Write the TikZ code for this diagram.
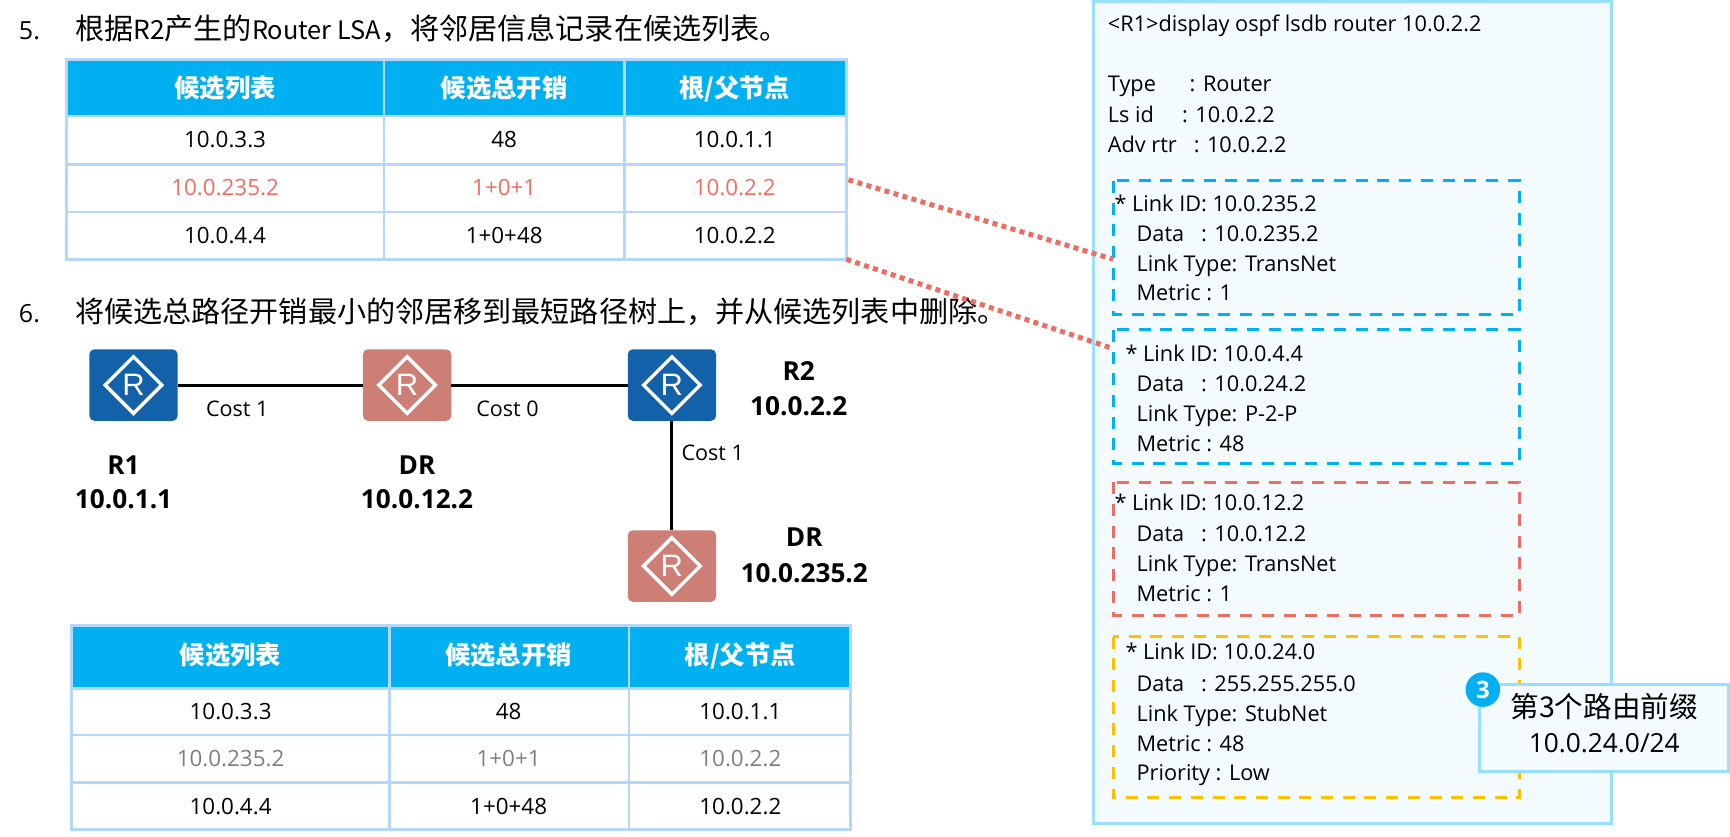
\documentclass[tikz,border=0pt]{standalone}
\usepackage{fontspec}
\setmainfont{Open Sans}
\newfontfamily\cjk{Noto Sans CJK SC}
\newfontfamily\rfont{Liberation Sans}
\usetikzlibrary{shapes.geometric}
\definecolor{hdr}{HTML}{00B0F0}
\definecolor{tline}{HTML}{B5D8FA}
\definecolor{panelfill}{HTML}{F3FBFF}
\definecolor{panelline}{HTML}{99DFFA}
\definecolor{redc}{HTML}{EC6E62}
\definecolor{yelc}{HTML}{FFC000}
\definecolor{rblue}{HTML}{1261A9}
\definecolor{rpink}{HTML}{CD7E75}
\definecolor{greyc}{HTML}{7F7F7F}
\newcommand{\fs}[1]{\fontsize{#1}{#1}\selectfont}
\tikzset{
  x=1.1033pt,y=-1.1033pt,
  title/.style={anchor=west,inner sep=0,text height=26pt,text depth=7pt,font=\fs{29.1}},
  numlab/.style={anchor=west,inner sep=0,text height=26pt,text depth=7pt,font=\fs{25}},
  cell/.style={inner sep=0,text height=18pt,text depth=3pt,font=\fs{22.4}},
  head/.style={inner sep=0,text height=20pt,text depth=4pt,text=white,font=\fs{25.3}\cjk\bfseries},
  tline/.style={draw=tline,line width=2.6pt},
  routerbox/.style={rectangle,rounded corners=5pt,minimum width=88.3pt,minimum height=71.5pt,inner sep=0},
  rmark/.style={diamond,draw=white,line width=3.4pt,inner sep=0,minimum size=58pt,text=white,font=\rfont\fs{31}},
  wire/.style={draw=black,line width=3pt},
  cost/.style={inner sep=0,text height=18pt,text depth=3pt,font=\fs{21.5}},
  rname/.style={inner sep=0,text height=20pt,text depth=3pt,font=\fs{26.2}\bfseries},
  code/.style={anchor=west,inner sep=0,text height=18pt,text depth=3pt,font=\fs{21.7}},
  dbox/.style={line width=3pt,dash pattern=on 12pt off 9.7pt},
  panel/.style={draw=panelline,fill=panelfill,line width=3pt},
  link/.style={draw=redc,line width=5pt,dash pattern=on 5pt off 4.4pt},
}
\begin{document}
\begin{tikzpicture}
\useasboundingbox (0,0) rectangle (1568,758.6);
% ---- titles
\node[numlab] (n5) at (17,27) {5.};
\node[title] (t5) at (68,27) {\cjk 根据{\fs{26.3}R2}产生的{\fs{25.4}Router LSA}，将邻居信息记录在候选列表。};
\node[numlab] (n6) at (17,284) {6.};
\node[title] (t6) at (68,284) {\cjk 将候选总路径开销最小的邻居移到最短路径树上，并从候选列表中删除。};
% ---- table 1
\fill[hdr] (60,54) rectangle (767,105);
\draw[tline] (60,54) rectangle (767,235);
\draw[tline] (60,105) -- (767,105) (60,149) -- (767,149) (60,192) -- (767,192);
\draw[tline] (348,54) -- (348,235) (566,54) -- (566,235);
\node[head] (a11) at (204,81) {候选列表};
\node[head] (a12) at (457,81) {候选总开销};
\node[head] (a13) at (666,81) {根/父节点};
\node[cell] (a21) at (204,127) {10.0.3.3};
\node[cell] (a22) at (457,127) {48};
\node[cell] (a23) at (666,127) {10.0.1.1};
\node[cell,text=redc] (a31) at (204,170.5) {10.0.235.2};
\node[cell,text=redc] (a32) at (457,170.5) {1+0+1};
\node[cell,text=redc] (a33) at (666,170.5) {10.0.2.2};
\node[cell] (a41) at (204,214) {10.0.4.4};
\node[cell] (a42) at (457,214) {1+0+48};
\node[cell] (a43) at (666,214) {10.0.2.2};
% ---- table 2
\fill[hdr] (65,567) rectangle (771,624);
\draw[tline] (65,567) rectangle (771,752);
\draw[tline] (65,624) -- (771,624) (65,666) -- (771,666) (65,709) -- (771,709);
\draw[tline] (353,567) -- (353,752) (570,567) -- (570,752);
\node[head] (b11) at (209,595) {候选列表};
\node[head] (b12) at (461,595) {候选总开销};
\node[head] (b13) at (671,595) {根/父节点};
\node[cell] (b21) at (209,645) {10.0.3.3};
\node[cell] (b22) at (461,645) {48};
\node[cell] (b23) at (671,645) {10.0.1.1};
\node[cell,text=greyc] (b31) at (209,688) {10.0.235.2};
\node[cell,text=greyc] (b32) at (461,688) {1+0+1};
\node[cell,text=greyc] (b33) at (671,688) {10.0.2.2};
\node[cell] (b41) at (209,731) {10.0.4.4};
\node[cell] (b42) at (461,731) {1+0+48};
\node[cell] (b43) at (671,731) {10.0.2.2};
% ---- routers
\node[routerbox,fill=rblue] (r1) at (121,349) {};
\node[rmark] (r1m) at (r1) {R};
\node[routerbox,fill=rpink] (dr1) at (369,349) {};
\node[rmark] (dr1m) at (dr1) {R};
\node[routerbox,fill=rblue] (r2) at (609,349) {};
\node[rmark] (r2m) at (r2) {R};
\node[routerbox,fill=rpink] (dr2) at (609,513) {};
\node[rmark] (dr2m) at (dr2) {R};
\draw[wire] (r1) -- (dr1);
\draw[wire] (dr1) -- (r2);
\draw[wire] (r2) -- (dr2);
\node[cost] (c1) at (215,371) {Cost 1};
\node[cost] (c2) at (460,371) {Cost 0};
\node[cost] (c3) at (646,411) {Cost 1};
\node[rname] (l1) at (112,422) {R1};
\node[rname] (l2) at (112,453) {10.0.1.1};
\node[rname] (l3) at (378,422) {DR};
\node[rname] (l4) at (378,453) {10.0.12.2};
\node[rname] (l5) at (724,337) {R2};
\node[rname] (l6) at (724,369) {10.0.2.2};
\node[rname] (l7) at (729,488) {DR};
\node[rname] (l8) at (729,520) {10.0.235.2};
% ---- panel
\draw[panel] (991,1) rectangle (1461,746);
\node[code] (p0) at (1004,22) {<R1>display ospf lsdb router 10.0.2.2};
\node[code] (p1) at (1004,76) {Type~~~~~~: Router};
\node[code] (p2) at (1004,104) {Ls id~~~~~: 10.0.2.2};
\node[code] (p3) at (1004,131) {Adv rtr~~~: 10.0.2.2};
\draw[dbox,draw=hdr] (1009,164) rectangle (1377,285);
\draw[dbox,draw=hdr] (1009,299) rectangle (1377,420);
\draw[dbox,draw=redc] (1009,437) rectangle (1377,558);
\draw[dbox,draw=yelc] (1009,577) rectangle (1377,723);
\node[code] (q1) at (1010,185) {* Link ID: 10.0.235.2};
\node[code] (q2) at (1030,212) {Data~~~: 10.0.235.2};
\node[code] (q3) at (1030,239) {Link Type: TransNet};
\node[code] (q4) at (1030,266) {Metric : 1};
\node[code] (s1) at (1020,321) {* Link ID: 10.0.4.4};
\node[code] (s2) at (1030,348) {Data~~~: 10.0.24.2};
\node[code] (s3) at (1030,375) {Link Type: P-2-P};
\node[code] (s4) at (1030,402) {Metric : 48};
\node[code] (u1) at (1010,456) {* Link ID: 10.0.12.2};
\node[code] (u2) at (1030,484) {Data~~~: 10.0.12.2};
\node[code] (u3) at (1030,511) {Link Type: TransNet};
\node[code] (u4) at (1030,538) {Metric : 1};
\node[code] (v1) at (1020,591) {* Link ID: 10.0.24.0};
\node[code] (v2) at (1030,620) {Data~~~: 255.255.255.0};
\node[code] (v3) at (1030,647) {Link Type: StubNet};
\node[code] (v4) at (1030,674) {Metric : 48};
\node[code] (v5) at (1030,701) {Priority : Low};
% ---- dotted links
\coordinate (la) at (769,163);
\coordinate (lb) at (1009,235);
\coordinate (lc) at (767,235);
\coordinate (ld) at (1009,316);
\draw[link] (la) -- (lb);
\draw[link] (lc) -- (ld);
% ---- callout
\draw[panel] (1341,620) rectangle (1567,699);
\node[inner sep=0,text height=22pt,text depth=6pt,font=\fs{28.6}\cjk] (k1) at (1454,643) {第3个路由前缀};
\node[inner sep=0,text height=20pt,text depth=4pt,font=\fs{26.3}] (k2) at (1454,675) {10.0.24.0/24};
\node[circle,fill=hdr,minimum size=34.6pt,inner sep=0,text=white,font=\fs{24}\bfseries] (k0) at (1344,625) {3};
\end{tikzpicture}
\end{document}
